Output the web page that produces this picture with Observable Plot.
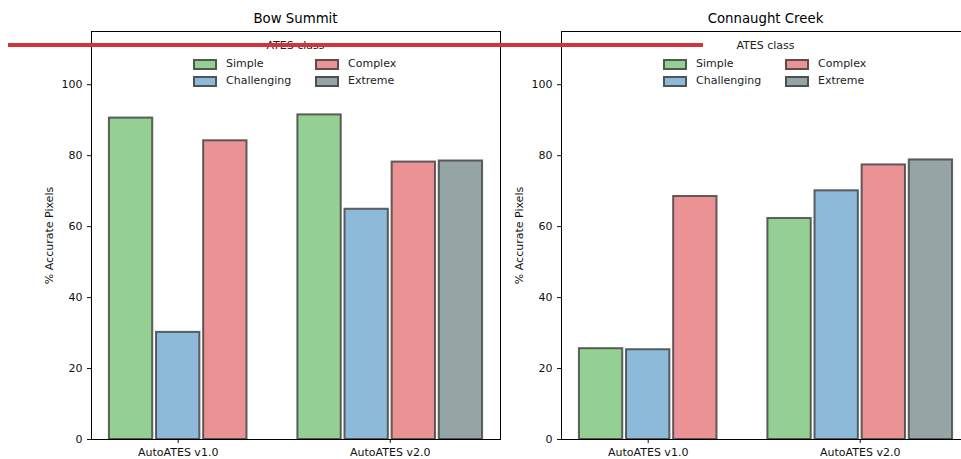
<!DOCTYPE html>
<html>
<head>
<meta charset="utf-8">
<script src="https://cdn.jsdelivr.net/npm/d3@7"></script>
<script src="https://cdn.jsdelivr.net/npm/@observablehq/plot@0.6"></script>
<style>
  html, body { margin: 0; padding: 0; background: #fff; }
  body { width: 961px; height: 459px; overflow: hidden; position: relative; font-family: "DejaVu Sans", sans-serif; }
  .panel { position: absolute; top: 0; width: 510px; height: 459px; }
  .title { position: absolute; top: 11px; left: 91px; width: 409px; text-align: center; font-size: 13.3px; line-height: 16px; color: #000; }
  .legend { position: absolute; top: 38px; left: 91px; width: 409px; font-size: 11px; color: #222; }
  .legend .ltitle { text-align: center; line-height: 16px; }
  .legend .item { position: absolute; height: 14px; line-height: 14px; white-space: nowrap; }
  .legend .sw { position: absolute; left: 0; top: 1px; width: 20px; height: 7px; border: 2px solid rgba(60,60,60,0.8); }
  .legend .lab { position: absolute; left: 33px; top: -1px; }
  .redline { position: absolute; left: 8px; top: 42.5px; width: 695px; height: 4px; background: #d1353b; z-index: 5; }
</style>
</head>
<body>
<script>
// ---- data ----
const sites = ["Bow Summit", "Connaught Creek"];
const versions = ["AutoATES v1.0", "AutoATES v2.0"];
const classes = ["Simple", "Challenging", "Complex", "Extreme"];
const classColors = ["#94cf94", "#8ebad9", "#ea9294", "#95a5a5"];
const bowV1 = [90.6, 30.2, 84.2, null];
const bowV2 = [91.5, 64.9, 78.2, 78.5];
const conV1 = [25.6, 25.3, 68.5, null];
const conV2 = [62.3, 70.1, 77.4, 78.8];
const yTicks = [0, 20, 40, 60, 80, 100];
const legendTitle = "ATES class";
const yLabel = "% Accurate Pixels";

const siteValues = [[bowV1, bowV2], [conV1, conV2]];

// build rows: each version group holds only the classes that have a value,
// with one empty slot between groups
function buildRows(groups) {
  const rows = [];
  const centers = [];
  let start = 0;
  groups.forEach((vals, gi) => {
    const present = classes.map((c, i) => ({cls: c, value: vals[i]})).filter(d => d.value != null);
    present.forEach((d, k) => rows.push({version: versions[gi], cls: d.cls, value: d.value, slot: start + k}));
    centers.push(start + (present.length - 1) / 2);
    start += present.length + 1;
  });
  return {rows, centers, nSlots: start - 1};
}

const barHalf = 0.46;
const pad = 0.84;

sites.forEach((site, si) => {
  const {rows, centers, nSlots} = buildRows(siteValues[si]);
  const panel = document.createElement("div");
  panel.className = "panel";
  panel.style.left = (si * 470) + "px";
  document.body.appendChild(panel);

  const chart = Plot.plot({
    width: 510,
    height: 459,
    marginLeft: 91,
    marginRight: 10,
    marginTop: 31,
    marginBottom: 20,
    style: {fontFamily: "DejaVu Sans, sans-serif", fontSize: "11px", color: "#111", background: "transparent"},
    x: {
      domain: [-pad, nSlots - 1 + pad],
      ticks: centers,
      tickFormat: (d) => versions[centers.indexOf(d)],
      tickSize: 4,
      label: null
    },
    y: {
      domain: [0, 115],
      ticks: yTicks,
      tickSize: 4,
      label: yLabel,
      labelArrow: false,
      labelAnchor: "center",
      labelOffset: 46
    },
    color: {domain: classes, range: classColors},
    marks: [
      Plot.rectY(rows, {
        x1: d => d.slot - barHalf,
        x2: d => d.slot + barHalf,
        y1: 0,
        y2: "value",
        fill: "cls",
        stroke: "#3c3c3c",
        strokeOpacity: 0.8,
        strokeWidth: 2
      }),
      Plot.frame({stroke: "#000", strokeWidth: 1})
    ]
  });
  panel.appendChild(chart);

  const title = document.createElement("div");
  title.className = "title";
  title.textContent = site;
  panel.appendChild(title);

  const legend = document.createElement("div");
  legend.className = "legend";
  const lt = document.createElement("div");
  lt.className = "ltitle";
  lt.textContent = legendTitle;
  legend.appendChild(lt);
  classes.forEach((c, i) => {
    const item = document.createElement("div");
    item.className = "item";
    item.style.left = (102 + Math.floor(i / 2) * 122) + "px";
    item.style.top = (20 + (i % 2) * 17) + "px";
    const sw = document.createElement("div");
    sw.className = "sw";
    sw.style.background = classColors[i];
    const lab = document.createElement("span");
    lab.className = "lab";
    lab.textContent = c;
    item.appendChild(sw);
    item.appendChild(lab);
    legend.appendChild(item);
  });
  panel.appendChild(legend);
});

const red = document.createElement("div");
red.className = "redline";
document.body.appendChild(red);
</script>
</body>
</html>
